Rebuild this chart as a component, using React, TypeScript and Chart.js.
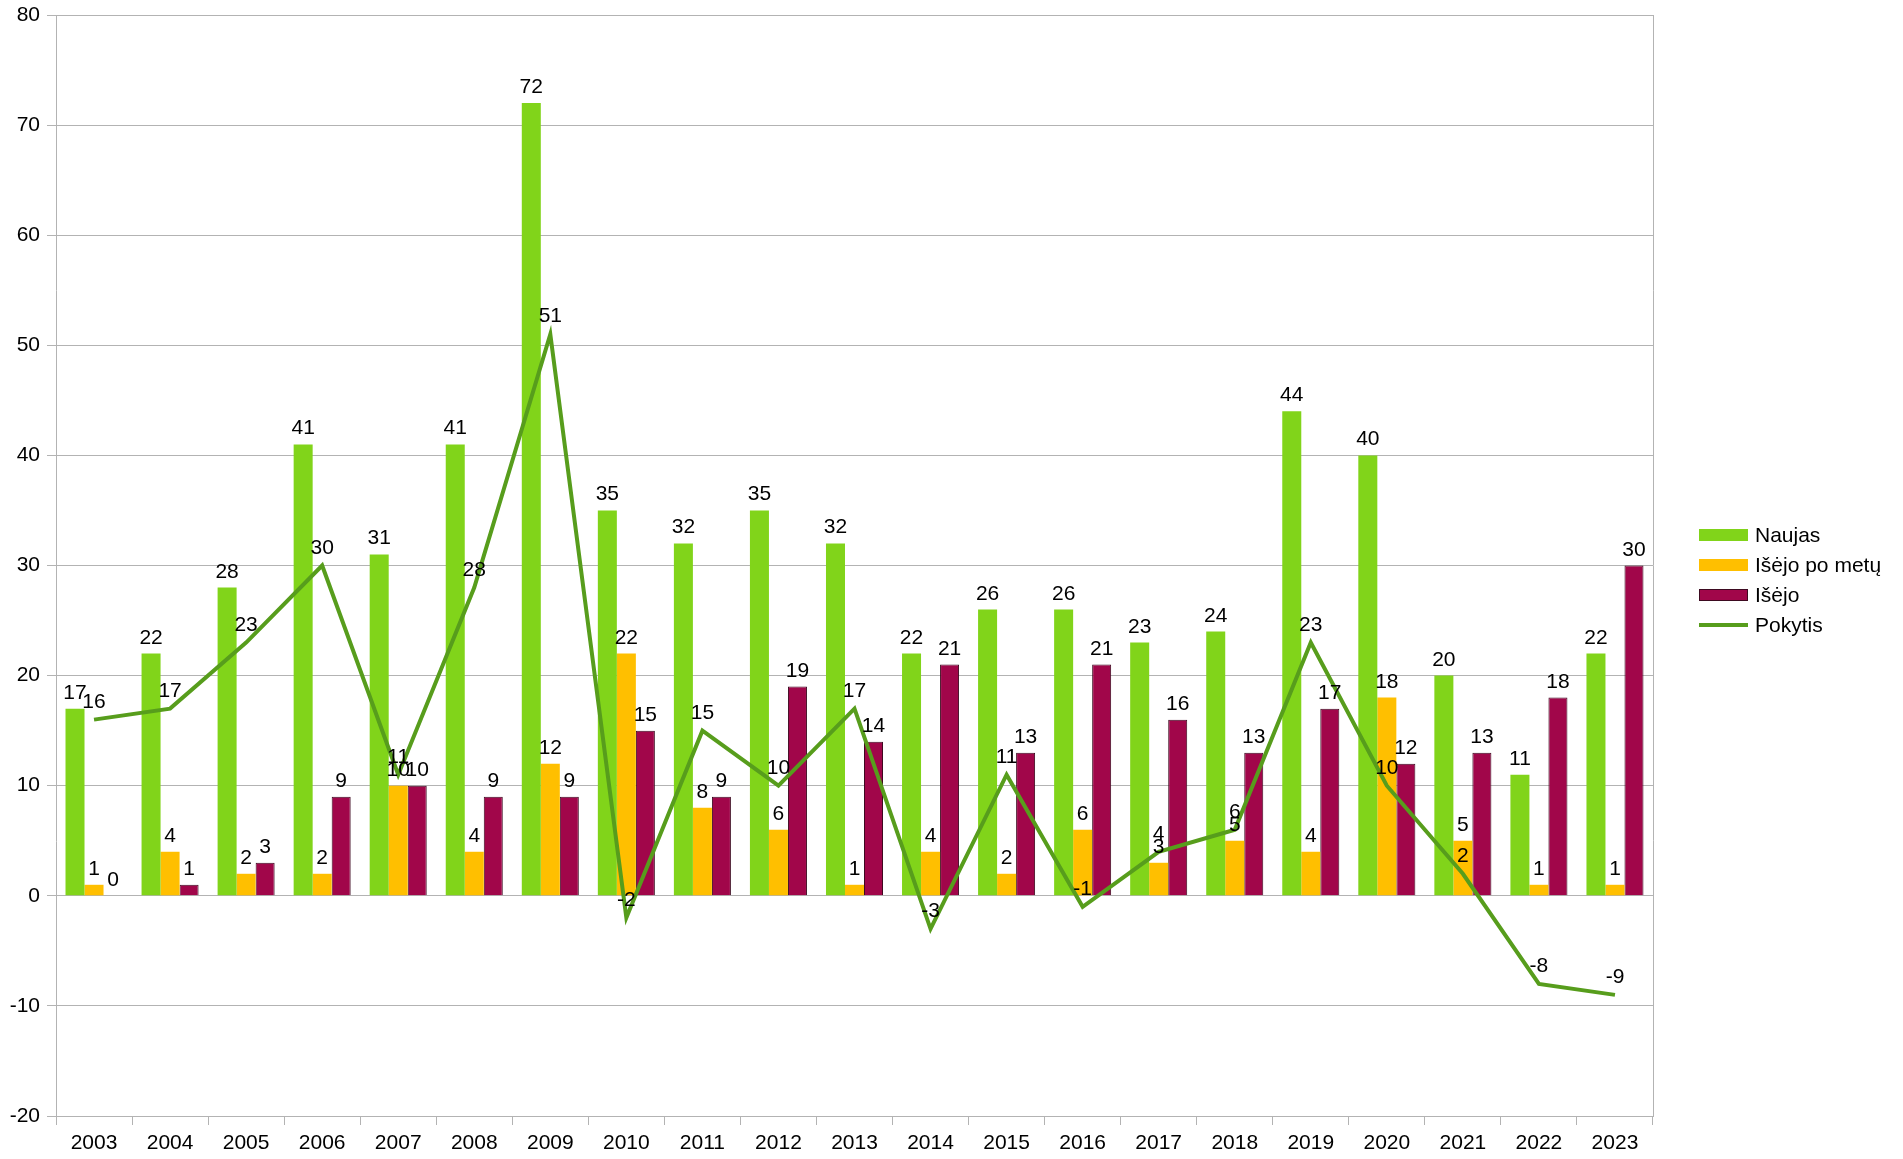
import React, { useEffect, useRef } from "react";
import { Chart, registerables } from "chart.js";

Chart.register(...registerables);

const years = ["2003","2004","2005","2006","2007","2008","2009","2010","2011","2012","2013","2014","2015","2016","2017","2018","2019","2020","2021","2022","2023"];
const naujas = [17,22,28,41,31,41,72,35,32,35,32,22,26,26,23,24,44,40,20,11,22];
const isejoPoMetu = [1,4,2,2,10,4,12,22,8,6,1,4,2,6,3,5,4,18,5,1,1];
const isejo = [0,1,3,9,10,9,9,15,9,19,14,21,13,21,16,13,17,12,13,18,30];
const pokytis = [16,17,23,30,11,28,51,-2,15,10,17,-3,11,-1,4,6,23,10,2,-8,-9];

const seriesNames = ["Naujas", "Išėjo po metų", "Išėjo", "Pokytis"];
const COLORS = { green: "#81d41a", yellow: "#ffbf00", purple: "#a1064a", purpleBorder: "#3d0a20", line: "#579d1c" };
const FONT = "'Liberation Sans', Arial, sans-serif";
const FS = 21;

const labelPlugin = {
  id: "valueLabels",
  afterDatasetsDraw(chart: any) {
    const ctx = chart.ctx;
    ctx.save();
    ctx.font = `${FS}px ${FONT}`;
    ctx.fillStyle = "#000";
    ctx.textAlign = "center";
    ctx.textBaseline = "alphabetic";
    chart.data.datasets.forEach((ds: any, i: number) => {
      const meta = chart.getDatasetMeta(i);
      meta.data.forEach((el: any, j: number) => {
        const v = ds.data[j];
        const off = ds.type === "line" ? 12 : 10;
        ctx.fillText(String(v), el.x, el.y - off);
      });
    });
    ctx.restore();
  },
};

const borderPlugin = {
  id: "rightBorder",
  beforeDatasetsDraw(chart: any) {
    const { ctx, chartArea } = chart;
    ctx.save();
    ctx.strokeStyle = "#b3b3b3";
    ctx.lineWidth = 1;
    ctx.beginPath();
    ctx.moveTo(Math.round(chartArea.right) + 0.5, chartArea.top);
    ctx.lineTo(Math.round(chartArea.right) + 0.5, chartArea.bottom);
    ctx.stroke();
    ctx.restore();
  },
};

export default function App() {
  const ref = useRef<HTMLCanvasElement>(null);
  useEffect(() => {
    if (!ref.current) return;
    Chart.defaults.font.family = FONT;
    Chart.defaults.font.size = FS;
    Chart.defaults.color = "#000";
    const chart = new Chart(ref.current, {
      type: "bar",
      data: {
        labels: years,
        datasets: [
          { type: "bar", label: seriesNames[0], data: naujas, backgroundColor: COLORS.green, borderWidth: 0, order: 1, categoryPercentage: 0.75, barPercentage: 1 } as any,
          { type: "bar", label: seriesNames[1], data: isejoPoMetu, backgroundColor: COLORS.yellow, borderWidth: 0, order: 1, categoryPercentage: 0.75, barPercentage: 1 } as any,
          { type: "bar", label: seriesNames[2], data: isejo, backgroundColor: COLORS.purple, borderColor: COLORS.purpleBorder, borderWidth: 1, order: 1, categoryPercentage: 0.75, barPercentage: 1 } as any,
          { type: "line", label: seriesNames[3], data: pokytis, borderColor: COLORS.line, backgroundColor: COLORS.line, borderWidth: 4, pointRadius: 0, tension: 0, order: 0 } as any,
        ],
      },
      options: {
        animation: false,
        responsive: false,
        layout: { padding: { left: 0, right: 250, top: 15, bottom: 0 } },
        plugins: { legend: { display: false }, tooltip: { enabled: false } },
        scales: {
          x: {
            offset: true,
            grid: { offset: true, drawOnChartArea: false, drawTicks: true, tickLength: 9, color: "#b3b3b3" },
            border: { color: "#b3b3b3" },
            ticks: { padding: 6, color: "#000", font: { size: FS }, maxRotation: 0 },
            afterFit: (s: any) => { s.height = 43; s.paddingLeft = 0; s.paddingRight = 0; },
          },
          y: {
            min: -20,
            max: 80,
            ticks: { stepSize: 10, padding: 7, color: "#000", font: { size: FS } },
            grid: { color: "#b3b3b3", tickLength: 9 },
            border: { color: "#b3b3b3" },
            afterFit: (s: any) => { s.width = 56; s.paddingTop = 0; s.paddingBottom = 0; },
          },
        },
      },
      plugins: [borderPlugin, labelPlugin],
    } as any);
    return () => chart.destroy();
  }, []);

  const legendItems = [
    { name: seriesNames[0], kind: "box", color: COLORS.green, border: "none", y: 535 },
    { name: seriesNames[1], kind: "box", color: COLORS.yellow, border: "none", y: 565 },
    { name: seriesNames[2], kind: "box", color: COLORS.purple, border: `1px solid ${COLORS.purpleBorder}`, y: 595 },
    { name: seriesNames[3], kind: "line", color: COLORS.line, border: "none", y: 625 },
  ];

  return (
    <div style={{ position: "fixed", left: 0, top: 0, width: 1903, height: 1159, background: "#fff" }}>
      <canvas ref={ref} width={1903} height={1159} style={{ position: "absolute", left: 0, top: 0 }} />
      {legendItems.map((it) => (
        <div key={it.name} style={{ position: "absolute", left: 1699, top: it.y - 15, height: 30, display: "flex", alignItems: "center", fontFamily: FONT, fontSize: FS, color: "#000", whiteSpace: "nowrap" }}>
          <div style={{ width: 49, height: it.kind === "line" ? 4 : 12, background: it.color, border: it.border, boxSizing: "border-box", marginRight: 7 }} />
          <span>{it.name}</span>
        </div>
      ))}
    </div>
  );
}
